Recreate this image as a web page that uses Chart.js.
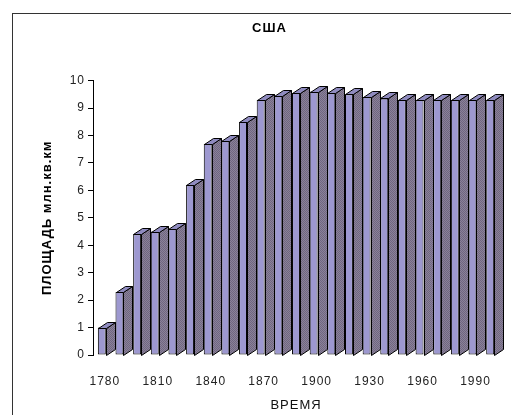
<!DOCTYPE html>
<html>
<head>
<meta charset="utf-8">
<script src="https://cdn.jsdelivr.net/npm/chart.js@4.4.1/dist/chart.umd.min.js"></script>
<style>
  html, body { margin: 0; padding: 0; background: #fff; }
</style>
</head>
<body>
<canvas id="chart" width="511" height="415"></canvas>
<script>
// годы
const years = [1780, 1790, 1800, 1810, 1820, 1830, 1840, 1850, 1860, 1870, 1880, 1890,
               1900, 1910, 1920, 1930, 1940, 1950, 1960, 1970, 1980, 1990, 2000];
// площадь, млн. кв. км
const area = [1.0, 2.3, 4.4, 4.5, 4.6, 6.2, 7.7, 7.8, 8.5, 9.3, 9.45, 9.55,
              9.6, 9.55, 9.5, 9.4, 9.35, 9.3, 9.3, 9.3, 9.3, 9.3, 9.3];
const yTicks = [0, 1, 2, 3, 4, 5, 6, 7, 8, 9, 10];

const FONT = "'Liberation Sans', Arial, sans-serif";

// штриховка боковой грани
function makeSidePattern(ctx) {
    const c = document.createElement('canvas');
    c.width = 2; c.height = 2;
    const p = c.getContext('2d');
    p.fillStyle = '#8a8299'; p.fillRect(0, 0, 2, 2);
    p.fillStyle = '#706680'; p.fillRect(0, 0, 1, 1); p.fillRect(1, 1, 1, 1);
    return ctx.createPattern(c, 'repeat');
}

// рамка и "объём" столбиков
const bars3d = {
    id: 'bars3d',
    beforeDraw(chart) {
        const ctx = chart.ctx;
        ctx.letterSpacing = '1px';
        ctx.save();
        ctx.strokeStyle = '#333';
        ctx.lineWidth = 1;
        ctx.strokeRect(12.5, 13.5, 700, 700);
        ctx.restore();
    },
    afterDatasetsDraw(chart) {
        const ctx = chart.ctx;
        const side = makeSidePattern(ctx);
        const dx = 9, dy = 6;
        ctx.save();
        ctx.strokeStyle = '#000';
        ctx.lineWidth = 1;
        chart.getDatasetMeta(0).data.forEach(bar => {
            const x0 = Math.round(bar.x - bar.width / 2) + 0.5;
            const x1 = Math.round(bar.x + bar.width / 2) + 0.5;
            const top = Math.round(bar.y) + 0.5;
            const base = Math.round(bar.base) + 0.5;
            // боковая грань
            ctx.beginPath();
            ctx.moveTo(x1, top);
            ctx.lineTo(x1 + dx, top - dy);
            ctx.lineTo(x1 + dx, base - dy);
            ctx.lineTo(x1, base);
            ctx.closePath();
            ctx.fillStyle = side;
            ctx.fill();
            ctx.stroke();
            // верхняя грань
            ctx.beginPath();
            ctx.moveTo(x0, top);
            ctx.lineTo(x0 + dx, top - dy);
            ctx.lineTo(x1 + dx, top - dy);
            ctx.lineTo(x1, top);
            ctx.closePath();
            ctx.fillStyle = '#8f8bbf';
            ctx.fill();
            ctx.stroke();
        });
        ctx.restore();
    }
};

const ctx = document.getElementById('chart').getContext('2d');
new Chart(ctx, {
    type: 'bar',
    data: {
        labels: years,
        datasets: [{
            data: area,
            backgroundColor: '#9d98d0',
            borderColor: '#000',
            borderWidth: 1,
            borderSkipped: false,
            categoryPercentage: 1,
            barPercentage: 0.45
        }]
    },
    options: {
        responsive: false,
        animation: false,
        layout: { padding: { left: 40, right: 12, top: 20, bottom: 0 } },
        plugins: {
            legend: { display: false },
            tooltip: { enabled: false },
            title: {
                display: true,
                text: 'США',
                color: '#000',
                font: { family: FONT, size: 13, weight: 'bold' },
                padding: { top: 1, bottom: 44 }
            }
        },
        scales: {
            x: {
                grid: { display: false },
                border: { display: false },
                afterFit(scale) { scale.height = 60; },
                ticks: {
                    autoSkip: false,
                    maxRotation: 0,
                    padding: 11,
                    labelOffset: 3,
                    color: '#222',
                    font: { family: FONT, size: 12 },
                    callback(value, index) {
                        return index % 3 === 0 ? years[index] : '';
                    }
                },
                title: {
                    display: true,
                    text: 'ВРЕМЯ',
                    color: '#111',
                    font: { family: FONT, size: 13 },
                    padding: { top: 0, bottom: 2 }
                }
            },
            y: {
                min: 0,
                max: 10,
                afterFit(scale) { scale.width = 53; },
                afterBuildTicks(scale) {
                    scale.ticks = yTicks.map(v => ({ value: v }));
                },
                grid: {
                    drawOnChartArea: false,
                    tickLength: 5,
                    color: '#000'
                },
                border: { color: '#000' },
                ticks: {
                    padding: 3,
                    color: '#222',
                    font: { family: FONT, size: 12 }
                },
                title: {
                    display: true,
                    text: 'ПЛОЩАДЬ млн.кв.км',
                    color: '#000',
                    font: { family: FONT, size: 13, weight: 'bold' },
                    padding: { top: 0, bottom: 0 }
                }
            }
        }
    },
    plugins: [bars3d]
});
</script>
</body>
</html>
